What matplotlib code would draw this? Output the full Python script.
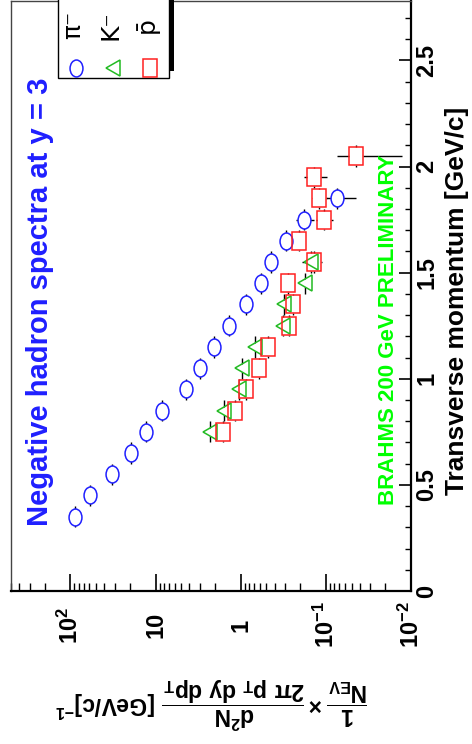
import matplotlib
matplotlib.use("Agg")
import matplotlib.pyplot as plt
from matplotlib.markers import MarkerStyle
from matplotlib.transforms import Affine2D, blended_transform_factory
from matplotlib.patches import Rectangle
from matplotlib.ticker import LogLocator, MultipleLocator, NullFormatter

plt.rcParams["font.family"] = ["Liberation Sans", "DejaVu Sans"]
plt.rcParams["font.weight"] = "bold"
plt.rcParams["mathtext.fontset"] = "custom"
plt.rcParams["mathtext.rm"] = "Liberation Sans:bold"
plt.rcParams["mathtext.bf"] = "Liberation Sans:bold"
plt.rcParams["mathtext.it"] = "Liberation Sans:bold:italic"
plt.rcParams["mathtext.default"] = "bf"

# pi- spectrum
pt_pi = [0.35, 0.45, 0.55, 0.65, 0.75, 0.85, 0.95, 1.05, 1.15, 1.25, 1.35, 1.45, 1.55, 1.65, 1.75, 1.85]
pi_val = [88, 59.5, 32.5, 19.4, 13.0, 8.47, 4.44, 3.02, 2.05, 1.36, 0.875, 0.573, 0.438, 0.298, 0.182, 0.074]
pi_err = [3, 2, 1, 0.6, 0.4, 0.25, 0.13, 0.09, 0.06, 0.04, 0.03, 0.02, 0.02, 0.02, 0.045, 0.03]

# K- spectrum
pt_k = [0.75, 0.85, 0.95, 1.05, 1.15, 1.25, 1.35, 1.45, 1.55]
k_val = [2.32, 1.58, 1.05, 0.973, 0.686, 0.323, 0.310, 0.178, 0.151]
k_err = [0.08, 0.06, 0.04, 0.04, 0.03, 0.02, 0.02, 0.02, 0.04]

# pbar spectrum
pt_p = [0.75, 0.85, 0.95, 1.05, 1.15, 1.25, 1.35, 1.45, 1.55, 1.65, 1.75, 1.85, 1.95, 2.05]
p_val = [1.61, 1.175, 0.867, 0.615, 0.474, 0.273, 0.246, 0.276, 0.139, 0.206, 0.106, 0.122, 0.139, 0.0437]
p_err = [0.06, 0.05, 0.04, 0.03, 0.02, 0.02, 0.02, 0.03, 0.02, 0.02, 0.023, 0.025, 0.043, 0.031]

pt_bin = 0.05

log_ticks = [100, 10, 1, 0.1, 0.01]
log_labels = [r"$10^{2}$", "10", "1", r"$10^{-1}$", r"$10^{-2}$"]
pt_ticks = [0, 0.5, 1, 1.5, 2, 2.5]
pt_labels = ["0", "0.5", "1", "1.5", "2", "2.5"]
leg_lab = ["\u03c0\u207b", "K\u207b", "p\u0304"]

W, H = 472, 744
def fx(p): return p / W
def fy(p): return 1 - p / H

fig = plt.figure(figsize=(4.72, 7.44), dpi=100)
ax = fig.add_axes([fx(11), fy(591), fx(411) - fx(11), fy(1) - fy(591)])
ax.set_xscale("log")
ax.set_xlim(500, 0.01)
ax.set_ylim(0, 2.78)

def mk(kind, sx):
    return MarkerStyle(kind, transform=Affine2D().scale(sx, 1))

series = [
    (pt_pi, pi_val, pi_err, mk("o", 0.76), 12.2, "#1f1fff"),
    (pt_k, k_val, k_err, mk("<", 0.82), 12.2, "#22bb22"),
    (pt_p, p_val, p_err, mk("s", 0.8), 12.6, "#ff2020"),
]

for pt, val, err, m, ms, c in series:
    ax.errorbar(val, pt, xerr=err, yerr=pt_bin, fmt="none", ecolor="black", elinewidth=1.0, zorder=2)
for pt, val, err, m, ms, c in series:
    ax.plot(val, pt, ls="none", marker=m, ms=ms, mfc="white", mec="none", zorder=3)
for pt, val, err, m, ms, c in series:
    ax.plot(val, pt, ls="none", marker=m, ms=ms, mfc="none", mec=c, mew=1.1, zorder=4)

# axes styling
for side in ["left", "top"]:
    ax.spines[side].set_linewidth(1.0)
    ax.spines[side].set_color("#444444")
for side in ["right", "bottom"]:
    ax.spines[side].set_linewidth(1.6)
    ax.spines[side].set_color("black")

ax.xaxis.set_major_locator(LogLocator(base=10, numticks=10))
ax.xaxis.set_minor_locator(LogLocator(base=10, subs=range(2, 10), numticks=20))
ax.xaxis.set_major_formatter(NullFormatter())
ax.xaxis.set_minor_formatter(NullFormatter())
ax.yaxis.set_major_locator(MultipleLocator(0.5))
ax.yaxis.set_minor_locator(MultipleLocator(0.1))
ax.yaxis.set_major_formatter(NullFormatter())
ax.yaxis.tick_right()
ax.tick_params(axis="x", which="major", direction="in", length=12, width=1.2, top=False, bottom=True)
ax.tick_params(axis="x", which="minor", direction="in", length=6, width=1.0, top=False, bottom=True)
ax.tick_params(axis="y", which="major", direction="in", length=9, width=1.2, left=False, right=True)
ax.tick_params(axis="y", which="minor", direction="in", length=4.5, width=1.0, left=False, right=True)

# tick labels
tx = blended_transform_factory(ax.transData, fig.transFigure)
for v, lab in zip(log_ticks, log_labels):
    ax.text(v, fy(625), lab, transform=tx, rotation=90, ha="center", va="center",
            fontsize=17, fontweight="bold", clip_on=False)
ty = blended_transform_factory(fig.transFigure, ax.transData)
for v, lab in zip(pt_ticks, pt_labels):
    ax.text(fx(427), v, lab, transform=ty, rotation=90, ha="center", va="center",
            fontsize=17, fontweight="bold", clip_on=False)

# axis titles
fig.text(fx(457), fy(301), "Transverse momentum [GeV/c]", rotation=90, ha="center", va="center",
         fontsize=19, fontweight="bold")
fig.text(fx(211), fy(703),
         r"$\dfrac{1}{N_{EV}}\times\dfrac{d^{2}N}{2\pi\ p_{T}\ dy\ dp_{T}}$ [GeV/c]$^{-1}$",
         rotation=180, ha="center", va="center", fontsize=16.5, fontweight="bold")

# annotations
fig.text(fx(40), fy(302), "Negative hadron spectra at y = 3", rotation=90, ha="center", va="center",
         fontsize=21, fontweight="bold", color="#1f1fff")
fig.text(fx(388), fy(330), "BRAHMS 200 GeV PRELIMINARY", rotation=90, ha="center", va="center",
         fontsize=16, fontweight="bold", color="#00ff00")

# legend box
fig.add_artist(Rectangle((fx(169), fy(71)), fx(5), fy(-5) - fy(71), transform=fig.transFigure,
                         facecolor="black", edgecolor="none", zorder=5))
fig.add_artist(Rectangle((fx(58), fy(78)), fx(169) - fx(58), fy(-5) - fy(78), transform=fig.transFigure,
                         facecolor="white", edgecolor="black", linewidth=1.0, zorder=6))
leg_x = [76, 113, 150]
for (pt, val, err, m, ms, c), x, lab in zip(series, leg_x, leg_lab):
    fig.add_artist(plt.Line2D([fx(x)], [fy(68)], transform=fig.transFigure, ls="none", marker=m,
                              ms=ms, mfc="white", mec=c, mew=1.1, zorder=7))
    fig.text(fx(x - 3), fy(25), lab, rotation=90, ha="center", va="center", fontsize=18,
             fontweight="normal", family=["DejaVu Sans"], zorder=7)

fig.savefig("out.png", dpi=100)
